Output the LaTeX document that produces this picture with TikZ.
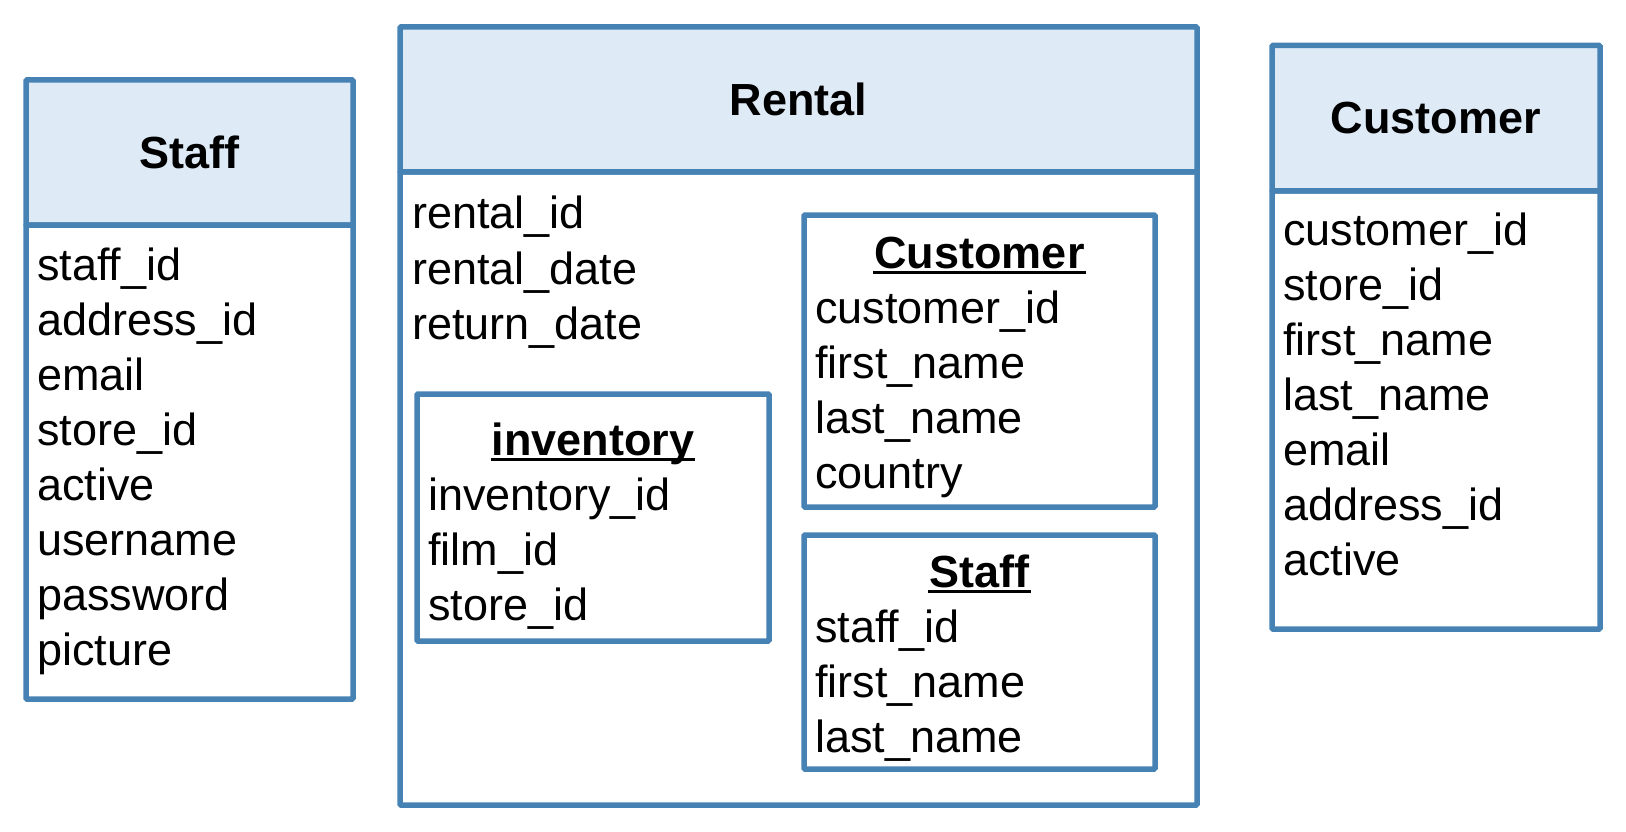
\documentclass[tikz,border=0pt]{standalone}
\usepackage{fontspec}
\setmainfont{Liberation Sans}
\definecolor{tableline}{RGB}{70,130,180}
\definecolor{tablehead}{RGB}{222,234,246}

\begin{document}
\begin{tikzpicture}[x=1pt,y=-1pt,
    box/.style={draw=tableline,line width=5.5pt,rounded corners=1pt,inner sep=0pt,outer sep=0pt,anchor=north west},
    headbox/.style={box,fill=tablehead},
    field/.style={anchor=base west,inner sep=0pt,font=\fontsize{45}{54}\selectfont},
    tabletitle/.style={inner sep=0pt,font=\fontsize{45}{54}\selectfont\bfseries},
    titleline/.style={line width=3pt,shorten <=-1pt,shorten >=-1pt}]
\useasboundingbox (0,0) rectangle (1626,832);

% outer tables
\node[headbox,minimum width=327,minimum height=145] (staffhead) at (26,80) {};
\node[box,minimum width=327,minimum height=474] (staffbody) at (staffhead.south west) {};

\node[headbox,minimum width=797,minimum height=145] (rentalhead) at (400,27) {};
\node[box,minimum width=797,minimum height=633] (rentalbody) at (rentalhead.south west) {};

\node[headbox,minimum width=328,minimum height=145.5] (custhead) at (1272,45.5) {};
\node[box,minimum width=328,minimum height=438] (custbody) at (custhead.south west) {};

% nested tables
\node[box,minimum width=351,minimum height=292] (incust) at (804,215) {};
\node[box,minimum width=351,minimum height=234] (instaff) at (804,535) {};
\node[box,minimum width=352,minimum height=247] (ininv) at (417,394) {};

% titles
\node[tabletitle] (stafftitle) at (staffhead.center) {Staff};
\node[tabletitle] (rentaltitle) at (rentalhead.center) {Rental};
\node[tabletitle] (custtitle) at (custhead.center) {Customer};

\begin{scope}[every node/.style={tabletitle,anchor=base}]
    \node (incusttitle) at (incust.center |- 0,268) {Customer};
    \node (instafftitle) at (instaff.center |- 0,587) {Staff};
    \node (ininvtitle) at (ininv.center |- 0,455) {inventory};
\end{scope}

\begin{scope}[titleline]
    \draw ([yshift=-4pt]incusttitle.base west) -- ([yshift=-4pt]incusttitle.base east);
    \draw ([yshift=-4pt]instafftitle.base west) -- ([yshift=-4pt]instafftitle.base east);
    \draw ([yshift=-4pt]ininvtitle.base west) -- ([yshift=-4pt]ininvtitle.base east);
\end{scope}

% fields
\foreach \f [count=\i from 0] in {staff\_id,address\_id,email,store\_id,active,username,password,picture}
    \node[field] (stafff\i) at (37,280+55*\i) {\f};
\foreach \f [count=\i from 0] in {rental\_id,rental\_date,return\_date}
    \node[field] (rentalf\i) at (412,229+55*\i) {\f};
\foreach \f [count=\i from 0] in {customer\_id,store\_id,first\_name,last\_name,email,address\_id,active}
    \node[field] (custf\i) at (1283,245+55*\i) {\f};
\foreach \f [count=\i from 0] in {customer\_id,first\_name,last\_name,country}
    \node[field] (incustf\i) at (815,323+55*\i) {\f};
\foreach \f [count=\i from 0] in {staff\_id,first\_name,last\_name}
    \node[field] (instafff\i) at (815,642+55*\i) {\f};
\foreach \f [count=\i from 0] in {inventory\_id,film\_id,store\_id}
    \node[field] (ininvf\i) at (428,510+55*\i) {\f};

\end{tikzpicture}
\end{document}
